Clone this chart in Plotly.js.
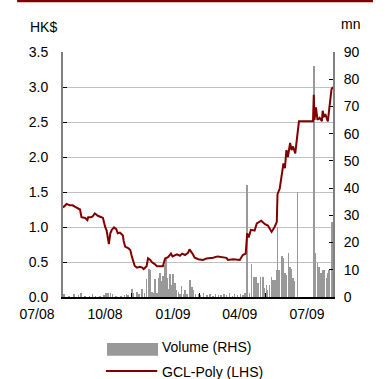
<!DOCTYPE html>
<html>
<head>
<meta charset="utf-8">
<script src="https://cdn.plot.ly/plotly-3.0.1.min.js"></script>
<style>html,body{margin:0;padding:0;background:#fff;}#chart{width:390px;height:379px;}</style>
</head>
<body>
<div id="chart"></div>
<script>
// GCL-Poly share price (HK$, LHS)
var priceDates = ['2008-07-01','2008-07-06','2008-07-10','2008-07-14','2008-07-17','2008-07-21','2008-07-24','2008-07-26','2008-07-31','2008-08-03','2008-08-04','2008-08-08','2008-08-10','2008-08-13','2008-08-17','2008-08-22','2008-08-24','2008-08-27','2008-08-29','2008-09-01','2008-09-03','2008-09-05','2008-09-08','2008-09-11','2008-09-13','2008-09-16','2008-09-20','2008-09-21','2008-09-23','2008-09-27','2008-09-30','2008-10-02','2008-10-06','2008-10-09','2008-10-13','2008-10-16','2008-10-18','2008-10-22','2008-10-24','2008-10-27','2008-10-29','2008-11-02','2008-11-05','2008-11-09','2008-11-13','2008-11-16','2008-11-20','2008-11-24','2008-11-26','2008-12-02','2008-12-06','2008-12-09','2008-12-13','2008-12-17','2008-12-19','2008-12-23','2008-12-26','2008-12-31','2009-01-06','2009-01-11','2009-01-20','2009-01-26','2009-01-31','2009-02-07','2009-02-09','2009-02-16','2009-02-25','2009-03-01','2009-03-05','2009-03-07','2009-03-09','2009-03-12','2009-03-17','2009-03-20','2009-03-26','2009-03-31','2009-04-04','2009-04-09','2009-04-13','2009-04-16','2009-04-17','2009-04-20','2009-04-25','2009-04-27','2009-04-29','2009-05-01','2009-05-04','2009-05-06','2009-05-08','2009-05-11','2009-05-13','2009-05-16','2009-06-04','2009-06-05','2009-06-06','2009-06-08','2009-06-10','2009-06-13','2009-06-16','2009-06-17','2009-06-19','2009-06-21','2009-06-24','2009-06-27','2009-06-29','2009-07-01'];
var priceValues = [1.28,1.33,1.31,1.31,1.29,1.26,1.25,1.14,1.13,1.10,1.14,1.14,1.15,1.195,1.16,1.14,1.13,1.00,0.95,0.757,0.91,0.96,0.995,0.97,0.91,0.92,0.88,0.80,0.72,0.70,0.67,0.58,0.443,0.42,0.43,0.42,0.40,0.44,0.553,0.53,0.50,0.47,0.44,0.44,0.44,0.55,0.57,0.62,0.58,0.61,0.59,0.62,0.60,0.63,0.68,0.62,0.56,0.54,0.53,0.55,0.56,0.58,0.57,0.56,0.53,0.54,0.53,0.60,0.62,0.91,0.85,0.96,0.95,1.05,1.09,1.04,1.02,0.93,1.00,1.07,1.47,1.55,1.91,1.84,2.10,2.00,2.20,2.10,2.15,2.05,2.24,2.51,2.51,2.89,2.53,2.71,2.53,2.56,2.51,2.66,2.58,2.60,2.51,2.81,2.97,3.00];

// Volume (mn, RHS)
var volDates = ['2008-07-02','2008-07-09','2008-07-16','2008-07-22','2008-07-25','2008-07-31','2008-08-06','2008-08-10','2008-08-14','2008-08-20','2008-08-25','2008-08-28','2008-08-31','2008-09-03','2008-09-06','2008-09-11','2008-09-17','2008-09-22','2008-09-25','2008-09-27','2008-10-02','2008-10-04','2008-10-09','2008-10-12','2008-10-16','2008-10-19','2008-10-22','2008-10-25','2008-10-27','2008-10-29','2008-10-31','2008-11-02','2008-11-05','2008-11-07','2008-11-09','2008-11-11','2008-11-13','2008-11-15','2008-11-17','2008-11-19','2008-11-20','2008-11-23','2008-11-25','2008-11-27','2008-11-29','2008-12-01','2008-12-04','2008-12-06','2008-12-08','2008-12-11','2008-12-13','2008-12-16','2008-12-20','2008-12-22','2008-12-24','2008-12-27','2008-12-31','2009-01-03','2009-01-07','2009-01-12','2009-01-16','2009-01-20','2009-01-23','2009-01-27','2009-01-31','2009-02-04','2009-02-07','2009-02-11','2009-02-15','2009-02-18','2009-02-22','2009-02-26','2009-03-01','2009-03-04','2009-03-07','2009-03-10','2009-03-13','2009-03-16','2009-03-19','2009-03-22','2009-03-25','2009-03-28','2009-03-30','2009-04-02','2009-04-03','2009-04-06','2009-04-09','2009-04-11','2009-04-14','2009-04-16','2009-04-17','2009-04-19','2009-04-23','2009-04-25','2009-04-27','2009-04-29','2009-05-02','2009-05-04','2009-05-06','2009-05-08','2009-05-10','2009-05-14','2009-06-05','2009-06-07','2009-06-10','2009-06-12','2009-06-15','2009-06-17','2009-06-19','2009-06-22','2009-06-24','2009-06-26','2009-06-30'];
var volValues = [1.0,0.5,1.2,0.6,1.3,0.4,0.5,1.2,0.3,0.5,0.8,1.3,1.5,1.6,1.0,0.5,0.4,0.6,1.2,0.8,2.8,1.5,2.0,1.0,3.0,1.5,6.5,10.2,10.0,2.0,1.5,6.5,1.5,7.0,9.0,6.0,7.7,11.8,13.8,7.0,3.0,8.6,4.5,8.3,5.0,2.5,2.0,1.2,4.0,1.0,2.5,1.2,6.2,3.5,2.5,1.0,1.2,0.8,1.5,0.6,1.0,0.5,1.2,0.8,0.6,1.0,0.7,1.3,0.5,1.0,0.8,1.2,0.6,1.5,41,1.5,12,7.5,7.2,5.2,7.5,7.3,3.2,4.5,2.5,4.5,7.5,6.2,6.2,10,25.6,9.9,15,14.2,9,8,16,11,10.4,7,6,38.7,85,16,12.6,11,8.7,10,9.9,7,9,9.9,27.7];

var tickDates = ['2008-07-01','2008-10-01','2009-01-01','2009-04-01','2009-07-01'];
var tickLabels = ['07/08','10/08','01/09','04/09','07/09'];

var FONT = 'Arial, "Liberation Sans", sans-serif';
var DARKRED = '#800000';
var GREY = '#999999';

var traces = [
  {type:'bar', x: volDates, y: volValues, yaxis:'y', name:'Volume (RHS)',
   marker:{color:GREY, line:{width:0}}, width: 2.2*86400000, showlegend:false, hoverinfo:'x+y'},
  {type:'scatter', mode:'lines', x: priceDates, y: priceValues, yaxis:'y2', name:'GCL-Poly (LHS)',
   line:{color:DARKRED, width:2}, showlegend:false}
];

var layout = {
  width:390, height:379,
  margin:{l:63, r:57, t:52, b:82},
  paper_bgcolor:'#fff', plot_bgcolor:'#fff',
  font:{family:FONT, size:14, color:'#000'},
  bargap:0,
  showlegend:false,
  xaxis:{type:'date', range:['2008-07-01','2009-07-01'], tickvals:tickDates, ticktext:tickLabels,
    ticks:'inside', ticklen:4, tickcolor:'#000', showline:true, linecolor:'#000', linewidth:1.5,
    showgrid:false, zeroline:false, ticklabelshift:-26, ticklabelstandoff:4, tickfont:{size:14}},
  yaxis:{side:'right', range:[0,90], dtick:10, tick0:0, ticks:'inside', ticklen:4, tickcolor:'#000',
    showline:true, linecolor:'#808080', linewidth:2, showgrid:false, zeroline:false, tickfont:{size:14}, ticklabelstandoff:6},
  yaxis2:{overlaying:'y', side:'left', range:[0,3.5], dtick:0.5, tick0:0, tickformat:'.1f',
    ticks:'inside', ticklen:4, tickcolor:'#000', showline:true, linecolor:'#808080', linewidth:2,
    showgrid:true, gridcolor:'#c0c0c0', gridwidth:1, zeroline:false, tickfont:{size:14}, ticklabelstandoff:10},
  shapes:[
    {type:'rect', xref:'paper', yref:'paper', x0:-0.170, x1:1.148, y0:1.203, y1:1.215, fillcolor:DARKRED, line:{width:0}},
    {type:'rect', xref:'paper', yref:'paper', x0:0.163, x1:0.352, y0:-0.188, y1:-0.240, fillcolor:GREY, line:{width:0}},
    {type:'line', xref:'paper', yref:'paper', x0:0.159, x1:0.349, y0:-0.302, y1:-0.302, line:{color:DARKRED, width:2}}
  ],
  annotations:[
    {text:'HK$', xref:'paper', yref:'paper', x:-0.13, y:1.102, xanchor:'left', yanchor:'middle', showarrow:false, font:{size:14}},
    {text:'mn', xref:'paper', yref:'paper', x:1.107, y:1.114, xanchor:'right', yanchor:'middle', showarrow:false, font:{size:14}},
    {text:'Volume (RHS)', xref:'paper', yref:'paper', x:0.359, y:-0.206, xanchor:'left', yanchor:'middle', showarrow:false, font:{size:14}},
    {text:'GCL-Poly (LHS)', xref:'paper', yref:'paper', x:0.359, y:-0.305, xanchor:'left', yanchor:'middle', showarrow:false, font:{size:14}}
  ]
};

Plotly.newPlot('chart', traces, layout, {displayModeBar:false, staticPlot:true});
</script>
</body>
</html>
